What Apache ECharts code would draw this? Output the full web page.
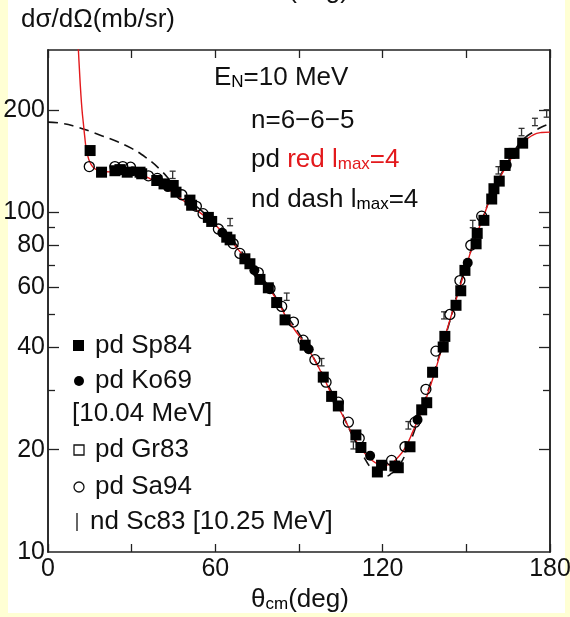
<!DOCTYPE html>
<html>
<head>
<meta charset="utf-8">
<script src="https://cdn.jsdelivr.net/npm/echarts@6/dist/echarts.min.js"></script>
<style>
  html, body { margin: 0; padding: 0; background: #ffffff; }
  #chart { width: 570px; height: 617px; }
</style>
</head>
<body>
<div id="chart"></div>
<script>
// Axis ticks and labels
const xTickValues = [0, 30, 60, 90, 120, 150, 180];
const xLabelValues = [0, 60, 120, 180];
const yLabelValues = [10, 20, 40, 60, 80, 100, 200];
const yMajorTicks = [20, 40, 60, 80, 100, 200];
const yMinorTicks = [30, 50, 70, 90];

// pd Sp84 (filled squares): [theta_cm, dsigma/dOmega]
const sp84 = [
  [15.1, 151.8], [19.2, 131.1], [24.0, 132.4], [25.8, 133.4], [28.4, 131.1],
  [33.0, 131.1], [33.6, 129.7], [39.0, 123.9], [41.6, 121.1], [44.9, 119.8],
  [45.9, 114.5], [50.9, 108.5], [51.5, 104.8], [57.5, 96.5], [58.7, 93.9],
  [64.1, 84.4], [65.3, 82.9], [70.6, 72.9], [72.4, 70.5], [76.0, 63.4],
  [79.0, 59.9], [82.0, 54.2], [85.0, 48.2], [92.2, 40.6], [98.7, 32.7],
  [101.7, 28.7], [104.1, 26.9], [110.4, 22.1], [112.2, 20.3], [118.1, 17.2],
  [119.6, 18.0], [124.4, 17.9], [125.6, 17.7], [129.8, 20.4], [134.0, 26.2],
  [135.8, 27.5], [137.9, 33.8], [141.7, 40.1], [142.3, 43.1], [146.3, 53.2],
  [148.0, 58.7], [149.5, 67.4], [153.5, 80.7], [153.9, 86.6], [156.3, 94.6],
  [159.1, 109.3], [159.9, 117.2], [161.8, 123.4], [163.9, 137.2], [165.6, 148.9],
  [167.1, 148.9], [170.2, 159.6]
];

// pd Ko69 (filled circles)
const ko69 = [
  [30.5, 132.0], [43.0, 118.5], [62.5, 87.0], [74.0, 67.5], [93.5, 39.5],
  [115.5, 19.2], [132.5, 24.5], [150.5, 71.0], [164.5, 137.6]
];

// pd Gr83 (open squares)
const gr83 = [];

// pd Sa94 (open circles)
const sa94 = [
  [14.8, 136.2], [24.0, 136.2], [26.8, 136.2], [29.6, 135.6], [36.0, 127.9],
  [39.2, 125.7], [48.0, 112.5], [53.2, 104.0], [55.6, 99.0], [61.1, 89.2],
  [66.4, 80.8], [68.8, 75.6], [75.4, 66.4], [79.6, 59.6], [83.8, 52.8],
  [88.0, 47.5], [91.5, 42.0], [95.7, 36.8], [99.7, 31.6], [104.1, 27.6],
  [107.7, 24.1], [111.6, 21.6], [123.2, 18.6], [128.0, 20.4], [131.6, 24.1],
  [135.5, 30.1], [139.1, 39.0], [144.1, 50.0], [147.7, 62.9], [151.6, 79.9],
  [155.5, 97.3]
];

// nd Sc83 (error bars): [theta_cm, value, error]
const sc83 = [
  [44.7, 128.8, 3.2], [65.3, 93.5, 2.3], [85.6, 56.4, 1.4], [98.1, 36.2, 0.9],
  [109.5, 20.6, 0.5], [129.2, 23.6, 0.6], [142.0, 49.7, 1.2], [152.3, 92.3, 2.3],
  [161.5, 132.8, 3.3], [169.8, 172.1, 4.3], [174.6, 184.3, 4.6], [178.8, 195.2, 4.9]
];

// pd calculation, lmax = 4 (red solid)
const pdCurve = [
  [10.6, 340], [10.9, 300], [11.3, 260], [11.7, 228], [12.2, 200], [12.7, 182],
  [13.2, 166], [13.6, 156], [14.5, 144], [15.3, 139], [16.2, 135.6], [17.5, 133.2],
  [19.2, 131.9], [22.0, 131.4], [24.6, 131.1], [27.0, 130.7], [29.4, 130.2],
  [32.0, 129.3], [34.2, 128.0], [36.5, 125.6], [39.0, 122.5], [41.5, 119.2],
  [43.7, 115.8], [46.0, 112.0], [48.5, 108.2], [51.0, 104.6], [53.3, 101.3],
  [55.7, 98.0], [58.1, 94.8], [61.0, 90.0], [64.6, 84.2], [68.0, 78.0],
  [71.2, 72.3], [74.0, 67.6], [76.5, 63.6], [79.0, 60.0], [82.6, 54.2],
  [85.6, 48.8], [88.5, 45.0], [91.5, 41.6], [95.4, 37.0], [99.0, 32.4],
  [102.3, 28.4], [105.9, 25.0], [109.5, 21.9], [113.1, 19.7], [116.6, 18.5],
  [119.0, 18.1], [120.8, 18.0], [123.0, 18.2], [125.0, 18.8], [128.0, 20.2],
  [131.0, 22.8], [134.0, 26.1], [137.0, 30.6], [139.9, 36.5], [142.5, 43.5],
  [145.9, 53.8], [149.5, 67.4], [153.1, 83.5], [156.1, 96.7], [159.1, 113.0],
  [162.1, 126.8], [165.6, 141.9], [169.8, 158.9], [174.0, 168.8], [177.0, 171.5],
  [180.0, 172.0]
];

// nd calculation, lmax = 4 (black dashed)
const ndCurve = [
  [0, 184], [5, 182.5], [10, 178.5], [15, 173], [20, 167], [25, 161], [30, 154],
  [35, 145], [40, 134], [45, 121], [50, 110], [55, 101], [60, 93], [65, 85],
  [70, 75.5], [75, 67], [80, 59], [85, 50.5], [90, 44], [95, 37.5], [100, 31.5],
  [105, 26], [110, 21.3], [113, 19.2], [116, 17.6], [119, 16.8], [121, 16.7],
  [123, 17.0], [126, 18.0], [129, 20.2], [132, 23.5], [135, 27.8], [138, 33],
  [141, 39.5], [144, 47.5], [147, 58.5], [150, 70], [153, 83], [156, 97],
  [159, 112], [162, 127], [165, 141], [168, 155], [171, 165.5], [174, 172],
  [177, 178], [179, 181]
];

const FONT = 'Liberation Sans, Arial, Helvetica, sans-serif';
const AX = '#222';
const RED = '#e3191c';
const FS = 26;     // annotation text size
const FS_SUB = 17; // subscript size

const chart = echarts.init(document.getElementById('chart'), null, { renderer: 'canvas' });

function yAxisDef(position, ticks, len, labels) {
  return {
    type: 'log', logBase: 10, min: 10, max: 300, position,
    axisLine: { show: true, lineStyle: { color: AX, width: 1.5 } },
    axisTick: { show: true, inside: true, length: len, customValues: ticks,
                lineStyle: { color: AX, width: 1.3 } },
    axisLabel: labels
      ? { show: true, customValues: yLabelValues, color: '#111', fontFamily: FONT,
          fontSize: 25, margin: 3 }
      : { show: false },
    splitLine: { show: false }
  };
}

function xAxisDef(position, labels) {
  return {
    type: 'value', min: 0, max: 180, interval: 30, position,
    axisLine: { show: true, onZero: false, lineStyle: { color: AX, width: 1.5 } },
    axisTick: { show: true, inside: true, length: 8, customValues: xTickValues,
                lineStyle: { color: AX, width: 1.3 } },
    axisLabel: labels
      ? { show: true, customValues: xLabelValues, color: '#111', fontFamily: FONT,
          fontSize: 25, margin: 5 }
      : { show: false },
    splitLine: { show: false }
  };
}

function errorBars(params, api) {
  const x = api.value(0), y = api.value(1), e = api.value(2);
  const hi = api.coord([x, y + e]);
  const lo = api.coord([x, y - e]);
  const w = 3;
  const st = { stroke: '#333', lineWidth: 1.3 };
  return {
    type: 'group',
    children: [
      { type: 'line', shape: { x1: hi[0], y1: hi[1], x2: lo[0], y2: lo[1] }, style: st },
      { type: 'line', shape: { x1: hi[0] - w, y1: hi[1], x2: hi[0] + w, y2: hi[1] }, style: st },
      { type: 'line', shape: { x1: lo[0] - w, y1: lo[1], x2: lo[0] + w, y2: lo[1] }, style: st }
    ]
  };
}

const sub = { fontFamily: FONT, fontSize: FS_SUB, verticalAlign: 'bottom', lineHeight: 15 };
const main = { fontFamily: FONT, fontSize: FS, fill: '#111' };

function txt(x, y, text) {
  return {
    type: 'text', x, y, z: 50,
    style: { text, fill: '#111', font: FS + 'px ' + FONT, verticalAlign: 'middle' }
  };
}

const option = {
  backgroundColor: '#ffffff',
  animation: false,
  grid: { left: 48, right: 20, top: 50, bottom: 65, containLabel: false, outerBoundsMode: 'none' },
  xAxis: [xAxisDef('bottom', true), xAxisDef('top', false)],
  yAxis: [
    yAxisDef('left', yMajorTicks, 11, true),
    yAxisDef('left', yMinorTicks, 7, false),
    yAxisDef('right', yMajorTicks, 11, false),
    yAxisDef('right', yMinorTicks, 7, false)
  ],
  series: [
    {
      name: 'nd dash', type: 'line', data: ndCurve, showSymbol: false, smooth: true, z: 2,
      lineStyle: { color: '#111', width: 1.6, type: [10, 6] }
    },
    {
      name: 'pd red', type: 'line', data: pdCurve, showSymbol: false, smooth: true, z: 3,
      lineStyle: { color: RED, width: 1.4 }
    },
    {
      name: 'nd Sc83', type: 'custom', data: sc83, renderItem: errorBars, z: 4,
      encode: { x: 0, y: 1 }
    },
    {
      name: 'pd Sa94', type: 'scatter', data: sa94, symbol: 'circle', symbolSize: 10, z: 5,
      itemStyle: { color: 'rgba(255,255,255,0)', borderColor: '#000', borderWidth: 1.3, opacity: 1 }
    },
    {
      name: 'pd Gr83', type: 'scatter', data: gr83, symbol: 'rect', symbolSize: 10, z: 5,
      itemStyle: { color: 'rgba(255,255,255,0)', borderColor: '#000', borderWidth: 1.3, opacity: 1 }
    },
    {
      name: 'pd Ko69', type: 'scatter', data: ko69, symbol: 'circle', symbolSize: 10, z: 6,
      itemStyle: { color: '#000', opacity: 1 }
    },
    {
      name: 'pd Sp84', type: 'scatter', data: sp84, symbol: 'rect', symbolSize: 11, z: 6,
      itemStyle: { color: '#000', opacity: 1 }
    }
  ],
  graphic: [
    // pale frame around the figure
    { type: 'rect', shape: { x: 0, y: 0, width: 8, height: 617 }, style: { fill: '#ffffd4' }, z: 0 },
    { type: 'rect', shape: { x: 565, y: 0, width: 5, height: 617 }, style: { fill: '#ffffd4' }, z: 0 },
    { type: 'rect', shape: { x: 0, y: 613, width: 570, height: 4 }, style: { fill: '#ffffd4' }, z: 0 },

    // axis titles
    txt(21, 20, 'dσ/dΩ(mb/sr)'),
    {
      type: 'text', x: 300, y: 600, z: 50,
      style: { text: '{a|θ}{s|cm}{a|(deg)}', align: 'center', verticalAlign: 'middle',
               rich: { a: main, s: sub } }
    },
    {
      type: 'text', x: 300, y: -9, z: 50,
      style: { text: '{a|θ}{s|cm}{a|(deg)}', align: 'center', verticalAlign: 'middle',
               rich: { a: main, s: sub } }
    },

    // annotations
    {
      type: 'text', x: 214, y: 78, z: 50,
      style: { text: '{a|E}{s|N}{a|=10 MeV}', verticalAlign: 'middle', rich: { a: main, s: sub } }
    },
    txt(251, 121, 'n=6−6−5'),
    {
      type: 'text', x: 251, y: 160, z: 50,
      style: { text: '{a|pd }{r|red l}{rs|max}{r|=4}', verticalAlign: 'middle',
               rich: { a: main, r: Object.assign({}, main, { fill: RED }),
                       rs: Object.assign({}, sub, { fill: RED }) } }
    },
    {
      type: 'text', x: 251, y: 200, z: 50,
      style: { text: '{a|nd dash l}{s|max}{a|=4}', verticalAlign: 'middle',
               rich: { a: main, s: sub } }
    },

    // key
    { type: 'rect', shape: { x: 73, y: 340, width: 11, height: 11 }, style: { fill: '#000' }, z: 50 },
    txt(95, 346, 'pd Sp84'),
    { type: 'circle', shape: { cx: 79, cy: 381, r: 5 }, style: { fill: '#000' }, z: 50 },
    txt(95, 381, 'pd Ko69'),
    txt(72, 414, '[10.04 MeV]'),
    { type: 'rect', shape: { x: 74, y: 445, width: 10, height: 10 },
      style: { fill: 'none', stroke: '#111', lineWidth: 1.3 }, z: 50 },
    txt(95, 450, 'pd Gr83'),
    { type: 'circle', shape: { cx: 79, cy: 487, r: 5 },
      style: { fill: 'none', stroke: '#111', lineWidth: 1.3 }, z: 50 },
    txt(95, 487, 'pd Sa94'),
    { type: 'line', shape: { x1: 77, y1: 513, x2: 77, y2: 531 },
      style: { stroke: '#333', lineWidth: 1.5 }, z: 50 },
    txt(90, 522, 'nd Sc83 [10.25 MeV]')
  ]
};

chart.setOption(option);
</script>
</body>
</html>
